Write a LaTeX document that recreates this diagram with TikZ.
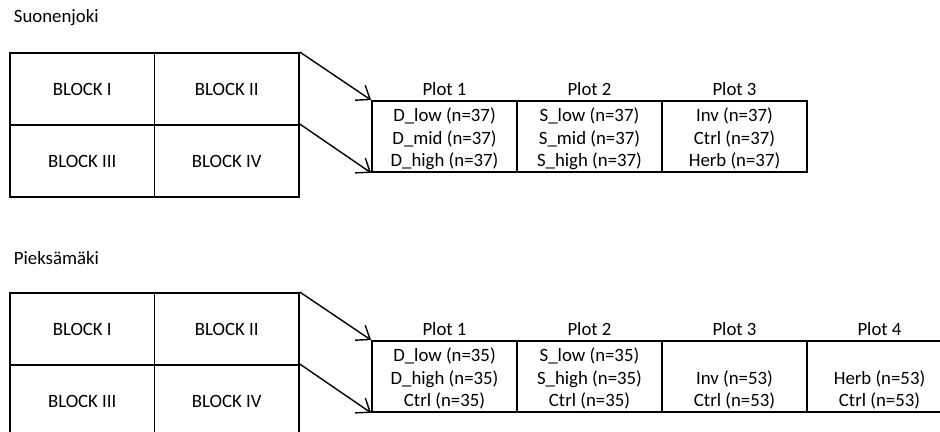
\documentclass[tikz,border=0pt]{standalone}
\usepackage{fontspec}
\setmainfont{Carlito}
\usepackage{tikz}
\usetikzlibrary{arrows.meta}

\begin{document}
\begin{tikzpicture}[x=0.5pt, y=-0.5pt, line width=0.9pt,
  font=\fontsize{9.4}{11.4}\selectfont,
  block/.style={draw, inner sep=0pt, minimum width=72.25pt, minimum height=36pt},
  plot/.style={draw, inner sep=0pt, minimum width=72.5pt, minimum height=35.5pt},
  rows/.style={inner sep=0pt, align=center, yshift=-1.5pt},
  head/.style={inner sep=0pt},
  site/.style={anchor=west, inner sep=0pt},
  zoom/.style={line width=0.7pt, -{Straight Barb[length=6pt, width=9pt, line width=0.7pt]}}]
  \clip (0,0) rectangle (940,432);
  % Suonenjoki
  \node[site] (s1) at (13,18) {Suonenjoki};
  \node[block] (s1b1) at (82.25,89) {BLOCK I};
  \node[block] (s1b2) at (226.75,89) {BLOCK II};
  \node[block] (s1b3) at (82.25,161) {BLOCK III};
  \node[block] (s1b4) at (226.75,161) {BLOCK IV};
  \node[plot] (s1p1) at (444.5,136.5) {};
  \node[plot] (s1p2) at (589.5,136.5) {};
  \node[plot] (s1p3) at (734.5,136.5) {};
  \node[rows] (s1t1) at (s1p1) {\strut D\_low (n=37)\\D\_mid (n=37)\\D\_high (n=37)\strut};
  \node[rows] (s1t2) at (s1p2) {\strut S\_low (n=37)\\S\_mid (n=37)\\S\_high (n=37)\strut};
  \node[rows] (s1t3) at (s1p3) {\strut Inv (n=37)\\Ctrl (n=37)\\Herb (n=37)\strut};
  \node[head] at (444.5,89) {Plot 1};
  \node[head] at (589.5,89) {Plot 2};
  \node[head] at (734.5,89) {Plot 3};
  \draw[zoom] (s1b2.north east) -- (s1p1.north west);
  \draw[zoom] (s1b4.north east) -- (s1p1.south west);
  % Pieksamaki
  \node[site] (s2) at (13,258) {Pieksämäki};
  \node[block] (s2b1) at (82.25,329) {BLOCK I};
  \node[block] (s2b2) at (226.75,329) {BLOCK II};
  \node[block] (s2b3) at (82.25,401) {BLOCK III};
  \node[block] (s2b4) at (226.75,401) {BLOCK IV};
  \node[plot] (s2p1) at (444.5,376.5) {};
  \node[plot] (s2p2) at (589.5,376.5) {};
  \node[plot] (s2p3) at (734.5,376.5) {};
  \node[plot] (s2p4) at (879.5,376.5) {};
  \node[rows] (s2t1) at (s2p1) {\strut D\_low (n=35)\\D\_high (n=35)\\Ctrl (n=35)\strut};
  \node[rows] (s2t2) at (s2p2) {\strut S\_low (n=35)\\S\_high (n=35)\\Ctrl (n=35)\strut};
  \node[rows] (s2t3) at (s2p3) {\strut\\Inv (n=53)\\Ctrl (n=53)\strut};
  \node[rows] (s2t4) at (s2p4) {\strut\\Herb (n=53)\\Ctrl (n=53)\strut};
  \node[head] at (444.5,329) {Plot 1};
  \node[head] at (589.5,329) {Plot 2};
  \node[head] at (734.5,329) {Plot 3};
  \node[head] at (879.5,329) {Plot 4};
  \draw[zoom] (s2b2.north east) -- (s2p1.north west);
  \draw[zoom] (s2b4.north east) -- (s2p1.south west);
\end{tikzpicture}
\end{document}
